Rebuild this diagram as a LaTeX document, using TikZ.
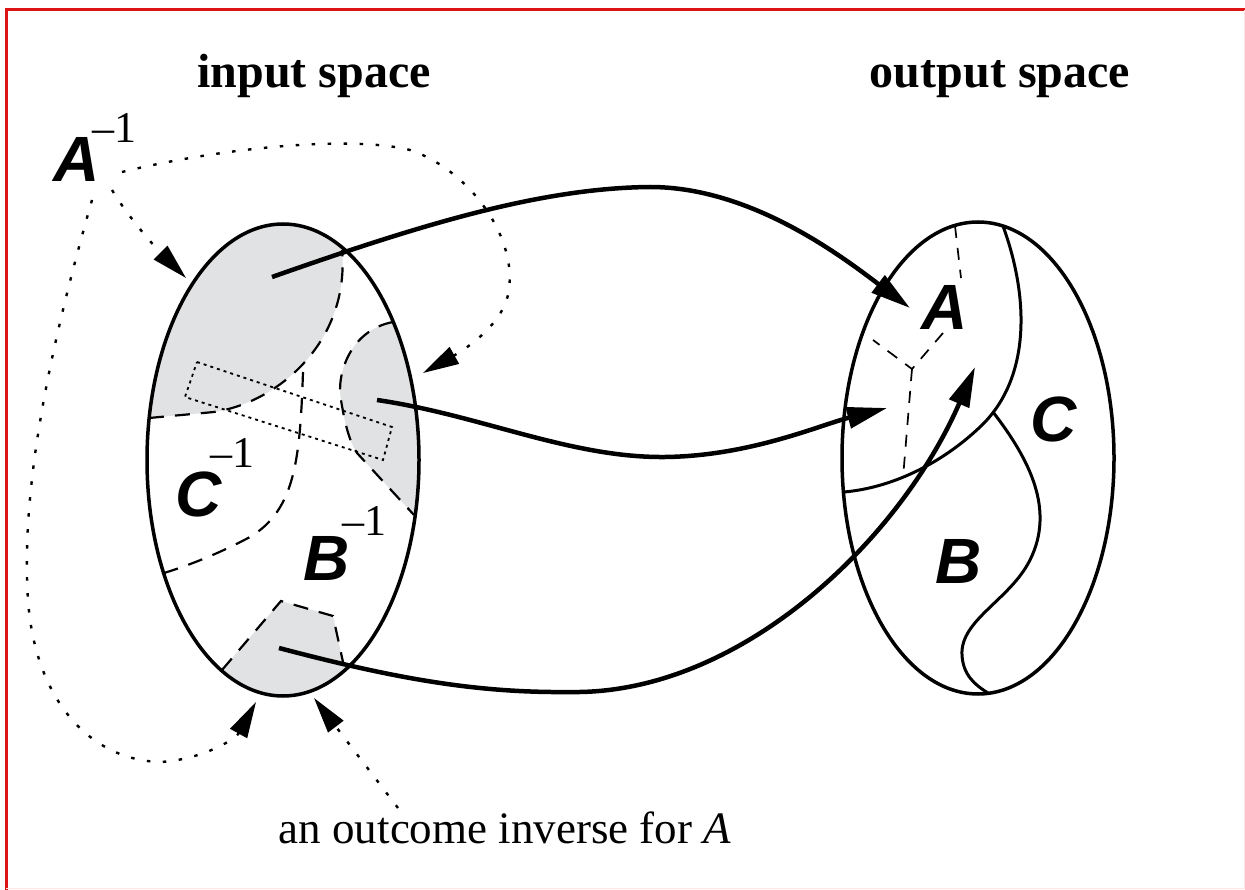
\documentclass[tikz,border=0pt]{standalone}
\usepackage{fontspec}
\setmainfont{Liberation Serif}
\newfontfamily\labfont{Liberation Sans}
\usetikzlibrary{arrows.meta,shapes.geometric}
\definecolor{regiongray}{RGB}{225,226,227}
\definecolor{framered}{RGB}{222,20,20}
\newcommand{\supfont}{\rmfamily\mdseries\upshape\fontsize{44}{44}\selectfont}
\begin{document}
\begin{tikzpicture}[x=1pt,y=-1pt,
  outline/.style={draw, ellipse, line width=3.5pt, minimum width=272pt, minimum height=472pt, inner sep=0pt},
  innerline/.style={line width=3pt},
  arr/.style={line width=4.5pt, -{Triangle[length=40pt,width=21pt]}},
  dotarr/.style={line width=2.4pt, dash pattern=on 3.5pt off 12.5pt, -{Triangle[length=36pt,width=19pt]}},
  dashln/.style={line width=2.2pt, dash pattern=on 15pt off 11pt},
  dashthin/.style={line width=1.7pt, dash pattern=on 12pt off 10pt},
  dotrect/.style={line width=1.8pt, dash pattern=on 3pt off 4pt},
  lab/.style={font=\labfont\bfseries\itshape\fontsize{64}{64}\selectfont, inner sep=0pt, anchor=base},
  labsup/.style={font=\labfont\bfseries\itshape\fontsize{64}{64}\selectfont, inner sep=0pt, anchor=base west},
  title/.style={font=\bfseries\fontsize{48}{48}\selectfont, inner sep=0pt, anchor=base},
  note/.style={font=\fontsize{45}{45}\selectfont, inner sep=0pt, anchor=base}]
\useasboundingbox (0,0) rectangle (1245,890);
\fill[white] (0,0) rectangle (1245,890);
% frame
\draw[framered, line width=3pt] (6,890) -- (6,10) -- (1245,10);
\draw[red!10, line width=1pt] (6,888) -- (1244,888) -- (1244,10);

% grey regions of the input space
\begin{scope}
  \clip (283,460) ellipse [x radius=136, y radius=236];
  \fill[regiongray] (120,418) -- (149,418) -- (214,412) .. controls (280,402) and (350,340) .. (342,250) -- (350,200) -- (120,200) -- cycle;
  \fill[regiongray] (393,322) .. controls (350,330) and (336,375) .. (341,400) .. controls (345,425) and (350,443) .. (357,453) -- (414,515) -- (460,515) -- (460,300) -- cycle;
  \fill[regiongray] (222,670) -- (281,601) -- (333,616) -- (343,662) -- (360,730) -- (200,730) -- cycle;
\end{scope}
\draw[dashln] (149,418) -- (214,412) .. controls (280,402) and (350,340) .. (342,250);
\draw[dashln] (393,322) .. controls (350,330) and (336,375) .. (341,400) .. controls (345,425) and (350,443) .. (357,453) -- (414,515);
\draw[dashln] (222,670) -- (281,601) -- (333,616) -- (343,662);
\draw[dashln] (303,372) .. controls (300,460) and (295,510) .. (250,537) .. controls (220,553) and (190,565) .. (164,573);
\draw[dotrect] (197,362) -- (392,427) -- (383,460) -- (185,397) -- cycle;

% the two spaces
\node[outline] (E1) at (283,460) {};
\node[outline] (E2) at (978,458) {};

% partition of the output space
\draw[innerline] (1003,226) .. controls (1030,300) and (1030,380) .. (980,427) .. controls (940,465) and (890,488) .. (844,492);
\draw[innerline] (993,412) .. controls (1030,460) and (1055,510) .. (1030,560) .. controls (1010,600) and (960,620) .. (962,655) .. controls (963,675) and (975,685) .. (988,693);
\draw[dashthin] (955,226) -- (961,278);
\draw[dashthin] (943,333) -- (912,369) -- (873,340);
\draw[dashthin] (912,369) -- (903,478);

% titles and labels
\node[title] (tin) at (314,88) {input space};
\node[title] (tout) at (1000,88) {output space};
\node[labsup] (Ainv) at (53,182) {A\kern-7pt\raisebox{39pt}{\supfont –1}};
\node[labsup] (Cinv) at (175,516) {C\kern-11pt\raisebox{49pt}{\supfont –1}};
\node[labsup] (Binv) at (303,580) {B\kern-7pt\raisebox{45pt}{\supfont –1}};
\node[lab] (A) at (945,330) {A};
\node[lab] (B) at (959,583) {B};
\node[lab] (C) at (1054,442) {C};
\node[note] (outc) at (505,843) {an outcome inverse for \textit{A}};

% solid mapping arrows
\coordinate (s1) at (272,277); \coordinate (t1) at (910,308);
\coordinate (s2) at (377,400); \coordinate (t2) at (887,408);
\coordinate (s3) at (279,648); \coordinate (t3) at (975,367);
\draw[arr] (s1) .. controls (420,225) and (540,188) .. (650,187) .. controls (750,187) and (840,255) .. (t1);
\draw[arr] (s2) .. controls (480,415) and (570,458) .. (665,457) .. controls (750,456) and (820,425) .. (t2);
\draw[arr] (s3) .. controls (400,680) and (480,693) .. (570,692) .. controls (740,695) and (900,540) .. (t3);

% dotted pointers
\coordinate (pa) at (122,172); \coordinate (qa) at (423,373);
\coordinate (pb) at (112,190); \coordinate (qb) at (186,278);
\coordinate (pc) at (92,200);  \coordinate (qc) at (256,702);
\coordinate (pd) at (398,808); \coordinate (qd) at (314,698);
\draw[dotarr] (pa) .. controls (220,148) and (350,135) .. (410,150) .. controls (470,170) and (520,240) .. (508,295) .. controls (500,330) and (455,355) .. (qa);
\draw[dotarr] (pb) .. controls (125,212) and (150,242) .. (qb);
\draw[dotarr] (pc) .. controls (55,330) and (20,480) .. (28,600) .. controls (35,700) and (90,760) .. (160,762) .. controls (200,760) and (235,740) .. (qc);
\draw[dotarr] (pd) -- (qd);
\end{tikzpicture}
\end{document}
